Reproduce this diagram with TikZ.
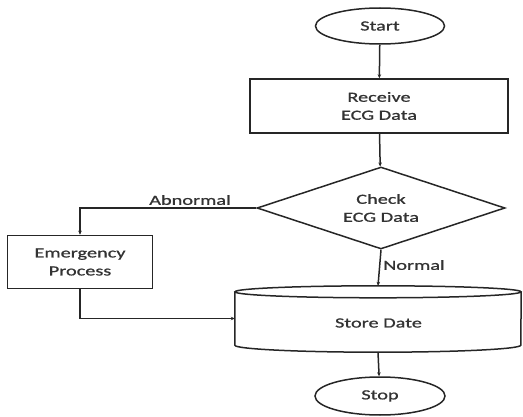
\documentclass[tikz,border=0pt]{standalone}
\usepackage{fontspec}
\setmainfont{Carlito}[FakeStretch=1.45,FakeBold=1]
\usetikzlibrary{shapes.geometric,arrows.meta,calc}
\begin{document}
\begin{tikzpicture}[x=1pt,y=1pt,
  every node/.style={font=\fontsize{14}{18}\selectfont, text=black!80, align=center},
  ln/.style={draw=black!85, line width=1.5pt},
  arr/.style={ln, -{Stealth[length=4pt,width=3.5pt]}},
  term/.style={ln, ellipse, minimum width=129pt, minimum height=36pt, inner sep=0pt},
  proc/.style={ln, rectangle, inner sep=0pt},
  decis/.style={ln, diamond, minimum width=248pt, minimum height=82pt, inner sep=0pt, aspect=3},
  lbl/.style={inner sep=0pt}
]
\useasboundingbox (0,0) rectangle (523,416);
\node[term] (start) at (380,390) {Start};
\node[proc, minimum width=258pt, minimum height=54pt] (recv) at (379,310) {Receive\\ECG Data};
\node[decis] (check) at (381,208) {Check\\ECG Data};
\node[proc, minimum width=145pt, minimum height=53pt] (emer) at (80,154) {Emergency\\Process};
\node[inner sep=0pt, minimum width=286pt, minimum height=53pt] (store) at (378,97.5) {};
\node[lbl] (storetxt) at (378.5,93) {Store Date};
\node[term, minimum width=130pt, minimum height=38pt] (stop) at (380,20) {Stop};
% cylinder outline
\draw[ln] (store.north west) -- (store.south west)
  arc[start angle=180, end angle=360, x radius=143pt, y radius=7pt]
  -- (store.north east);
\draw[ln] (store.north) ellipse[x radius=143pt, y radius=6pt];
\coordinate (storetop) at ($(store.north)+(0,6)$);
% connectors
\draw[arr] (start) -- (recv);
\draw[arr] (recv) -- (check);
\draw[arr] (check.west) -| (emer.north);
\node[lbl] (abn) at (190,216) {Abnormal};
\draw[arr] (check.south) -- (storetop);
\node[lbl, anchor=west] (nrm) at (383,151) {Normal};
\draw[arr] (emer.south) |- (store.west);
\draw[arr] ($(store.south)+(0,-7)$) -- (stop);
\end{tikzpicture}
\end{document}
